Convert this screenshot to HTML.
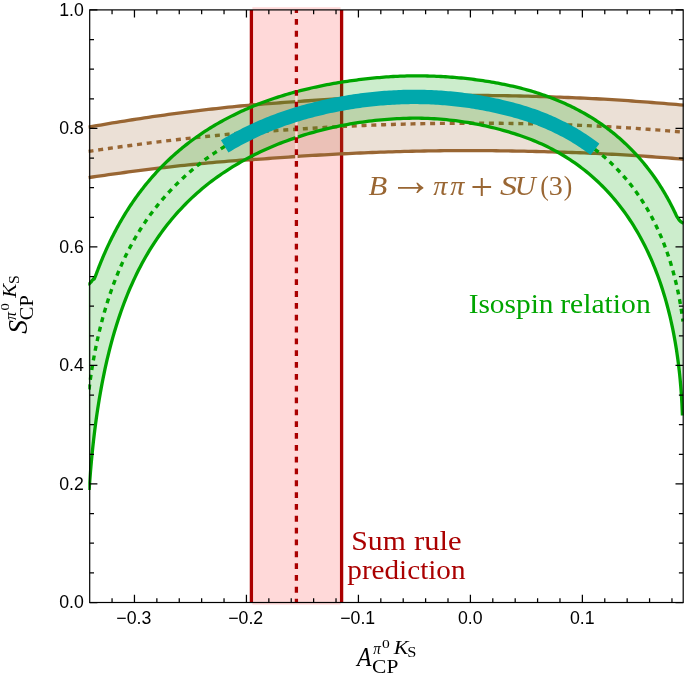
<!DOCTYPE html>
<html><head><meta charset="utf-8"><title>S_CP vs A_CP</title>
<style>
html,body{margin:0;padding:0;background:#fff;}
svg{display:block;}
.tk{font-family:"Liberation Sans",sans-serif;font-size:17.8px;fill:#000;}
</style></head><body>
<svg width="685" height="673" viewBox="0 0 685 673">
<rect width="685" height="673" fill="#fff"/>
<defs><clipPath id="cp"><rect x="88.3" y="9.9" width="595.4" height="592.6"/></clipPath><clipPath id="cl"><rect x="249" y="90" width="5.2" height="80"/></clipPath></defs>
<!-- sum rule band -->
<rect x="252.4" y="7.2" width="88.2" height="597.4" fill="#ff0000" fill-opacity="0.15"/>
<g clip-path="url(#cp)" fill="none" stroke-linejoin="round">
<path d="M341.6,9.9 V602.5" stroke="#aa0000" stroke-width="3.3"/>
<!-- SU(3) band -->
<path d="M88.50,127.12 L92.50,126.41 L96.49,125.70 L100.49,125.01 L104.49,124.32 L108.48,123.64 L112.48,122.97 L116.48,122.31 L120.47,121.65 L124.47,121.01 L128.47,120.37 L132.46,119.75 L136.46,119.13 L140.46,118.52 L144.45,117.92 L148.45,117.33 L152.45,116.74 L156.44,116.17 L160.44,115.60 L164.44,115.04 L168.43,114.49 L172.43,113.95 L176.43,113.42 L180.42,112.89 L184.42,112.37 L188.42,111.87 L192.41,111.37 L196.41,110.87 L200.41,110.39 L204.40,109.91 L208.40,109.45 L212.40,108.99 L216.39,108.54 L220.39,108.09 L224.39,107.66 L228.38,107.23 L232.38,106.81 L236.38,106.40 L240.37,106.00 L244.37,105.65 L248.37,105.30 L252.36,104.96 L256.36,104.62 L260.36,104.30 L264.35,103.97 L268.35,103.66 L272.35,103.35 L276.34,103.04 L280.34,102.74 L284.34,102.44 L288.33,102.15 L292.33,101.86 L296.33,101.57 L300.32,101.29 L304.32,101.01 L308.32,100.73 L312.31,100.46 L316.31,100.20 L320.31,99.95 L324.30,99.70 L328.30,99.46 L332.30,99.22 L336.29,98.99 L340.29,98.77 L344.29,98.55 L348.28,98.35 L352.28,98.14 L356.28,97.95 L360.27,97.76 L364.27,97.58 L368.27,97.41 L372.26,97.24 L376.26,97.08 L380.26,96.93 L384.25,96.79 L388.25,96.65 L392.24,96.52 L396.24,96.40 L400.24,96.29 L404.23,96.18 L408.23,96.08 L412.23,95.99 L416.22,95.91 L420.22,95.83 L424.22,95.76 L428.21,95.69 L432.21,95.63 L436.21,95.58 L440.20,95.53 L444.20,95.50 L448.20,95.46 L452.19,95.44 L456.19,95.42 L460.19,95.41 L464.18,95.40 L468.18,95.40 L472.18,95.41 L476.17,95.42 L480.17,95.44 L484.17,95.47 L488.16,95.50 L492.16,95.54 L496.16,95.59 L500.15,95.64 L504.15,95.70 L508.15,95.76 L512.14,95.83 L516.14,95.91 L520.14,96.00 L524.13,96.09 L528.13,96.18 L532.13,96.28 L536.12,96.39 L540.12,96.51 L544.12,96.63 L548.11,96.76 L552.11,96.89 L556.11,97.03 L560.10,97.17 L564.10,97.33 L568.10,97.48 L572.09,97.65 L576.09,97.82 L580.09,97.99 L584.08,98.17 L588.08,98.36 L592.08,98.56 L596.07,98.77 L600.07,98.98 L604.07,99.21 L608.06,99.44 L612.06,99.68 L616.06,99.93 L620.05,100.18 L624.05,100.45 L628.05,100.72 L632.04,101.00 L636.04,101.28 L640.04,101.58 L644.03,101.87 L648.03,102.18 L652.03,102.49 L656.02,102.81 L660.02,103.13 L664.02,103.46 L668.01,103.80 L672.01,104.14 L676.01,104.48 L680.00,104.83 L684.00,105.19 L684.00,159.25 L680.00,158.91 L676.01,158.59 L672.01,158.26 L668.01,157.95 L664.02,157.64 L660.02,157.34 L656.02,157.05 L652.03,156.76 L648.03,156.48 L644.03,156.20 L640.04,155.93 L636.04,155.67 L632.04,155.42 L628.05,155.17 L624.05,154.93 L620.05,154.69 L616.06,154.46 L612.06,154.24 L608.06,154.03 L604.07,153.82 L600.07,153.61 L596.07,153.42 L592.08,153.24 L588.08,153.07 L584.08,152.91 L580.09,152.76 L576.09,152.62 L572.09,152.49 L568.10,152.37 L564.10,152.25 L560.10,152.13 L556.11,152.02 L552.11,151.91 L548.11,151.80 L544.12,151.70 L540.12,151.59 L536.12,151.48 L532.13,151.39 L528.13,151.29 L524.13,151.20 L520.14,151.12 L516.14,151.05 L512.14,150.98 L508.15,150.91 L504.15,150.85 L500.15,150.80 L496.16,150.75 L492.16,150.71 L488.16,150.68 L484.17,150.65 L480.17,150.63 L476.17,150.61 L472.18,150.60 L468.18,150.60 L464.18,150.60 L460.19,150.61 L456.19,150.63 L452.19,150.65 L448.20,150.68 L444.20,150.72 L440.20,150.76 L436.21,150.81 L432.21,150.87 L428.21,150.93 L424.22,151.00 L420.22,151.08 L416.22,151.16 L412.23,151.26 L408.23,151.35 L404.23,151.46 L400.24,151.57 L396.24,151.69 L392.24,151.81 L388.25,151.94 L384.25,152.08 L380.26,152.22 L376.26,152.36 L372.26,152.52 L368.27,152.68 L364.27,152.84 L360.27,153.01 L356.28,153.19 L352.28,153.37 L348.28,153.55 L344.29,153.74 L340.29,153.94 L336.29,154.14 L332.30,154.34 L328.30,154.56 L324.30,154.78 L320.31,155.00 L316.31,155.23 L312.31,155.47 L308.32,155.72 L304.32,155.97 L300.32,156.22 L296.33,156.49 L292.33,156.76 L288.33,157.03 L284.34,157.32 L280.34,157.60 L276.34,157.90 L272.35,158.20 L268.35,158.51 L264.35,158.82 L260.36,159.08 L256.36,159.32 L252.36,159.53 L248.37,159.74 L244.37,159.98 L240.37,160.24 L236.38,160.55 L232.38,160.86 L228.38,161.18 L224.39,161.52 L220.39,161.86 L216.39,162.21 L212.40,162.58 L208.40,162.94 L204.40,163.32 L200.41,163.71 L196.41,164.10 L192.41,164.50 L188.42,164.90 L184.42,165.31 L180.42,165.73 L176.43,166.16 L172.43,166.60 L168.43,167.04 L164.44,167.49 L160.44,167.95 L156.44,168.41 L152.45,168.89 L148.45,169.37 L144.45,169.88 L140.46,170.39 L136.46,170.90 L132.46,171.43 L128.47,171.96 L124.47,172.49 L120.47,173.03 L116.48,173.58 L112.48,174.13 L108.48,174.70 L104.49,175.26 L100.49,175.84 L96.49,176.42 L92.50,177.00 L88.50,177.60 Z" fill="#996633" fill-opacity="0.2"/>
<path d="M88.50,127.12 L92.50,126.41 L96.49,125.70 L100.49,125.01 L104.49,124.32 L108.48,123.64 L112.48,122.97 L116.48,122.31 L120.47,121.65 L124.47,121.01 L128.47,120.37 L132.46,119.75 L136.46,119.13 L140.46,118.52 L144.45,117.92 L148.45,117.33 L152.45,116.74 L156.44,116.17 L160.44,115.60 L164.44,115.04 L168.43,114.49 L172.43,113.95 L176.43,113.42 L180.42,112.89 L184.42,112.37 L188.42,111.87 L192.41,111.37 L196.41,110.87 L200.41,110.39 L204.40,109.91 L208.40,109.45 L212.40,108.99 L216.39,108.54 L220.39,108.09 L224.39,107.66 L228.38,107.23 L232.38,106.81 L236.38,106.40 L240.37,106.00 L244.37,105.65 L248.37,105.30 L252.36,104.96 L256.36,104.62 L260.36,104.30 L264.35,103.97 L268.35,103.66 L272.35,103.35 L276.34,103.04 L280.34,102.74 L284.34,102.44 L288.33,102.15 L292.33,101.86 L296.33,101.57 L300.32,101.29 L304.32,101.01 L308.32,100.73 L312.31,100.46 L316.31,100.20 L320.31,99.95 L324.30,99.70 L328.30,99.46 L332.30,99.22 L336.29,98.99 L340.29,98.77 L344.29,98.55 L348.28,98.35 L352.28,98.14 L356.28,97.95 L360.27,97.76 L364.27,97.58 L368.27,97.41 L372.26,97.24 L376.26,97.08 L380.26,96.93 L384.25,96.79 L388.25,96.65 L392.24,96.52 L396.24,96.40 L400.24,96.29 L404.23,96.18 L408.23,96.08 L412.23,95.99 L416.22,95.91 L420.22,95.83 L424.22,95.76 L428.21,95.69 L432.21,95.63 L436.21,95.58 L440.20,95.53 L444.20,95.50 L448.20,95.46 L452.19,95.44 L456.19,95.42 L460.19,95.41 L464.18,95.40 L468.18,95.40 L472.18,95.41 L476.17,95.42 L480.17,95.44 L484.17,95.47 L488.16,95.50 L492.16,95.54 L496.16,95.59 L500.15,95.64 L504.15,95.70 L508.15,95.76 L512.14,95.83 L516.14,95.91 L520.14,96.00 L524.13,96.09 L528.13,96.18 L532.13,96.28 L536.12,96.39 L540.12,96.51 L544.12,96.63 L548.11,96.76 L552.11,96.89 L556.11,97.03 L560.10,97.17 L564.10,97.33 L568.10,97.48 L572.09,97.65 L576.09,97.82 L580.09,97.99 L584.08,98.17 L588.08,98.36 L592.08,98.56 L596.07,98.77 L600.07,98.98 L604.07,99.21 L608.06,99.44 L612.06,99.68 L616.06,99.93 L620.05,100.18 L624.05,100.45 L628.05,100.72 L632.04,101.00 L636.04,101.28 L640.04,101.58 L644.03,101.87 L648.03,102.18 L652.03,102.49 L656.02,102.81 L660.02,103.13 L664.02,103.46 L668.01,103.80 L672.01,104.14 L676.01,104.48 L680.00,104.83 L684.00,105.19" stroke="#996633" stroke-width="3.3"/>
<path d="M88.50,177.60 L92.50,177.00 L96.49,176.42 L100.49,175.84 L104.49,175.26 L108.48,174.70 L112.48,174.13 L116.48,173.58 L120.47,173.03 L124.47,172.49 L128.47,171.96 L132.46,171.43 L136.46,170.90 L140.46,170.39 L144.45,169.88 L148.45,169.37 L152.45,168.89 L156.44,168.41 L160.44,167.95 L164.44,167.49 L168.43,167.04 L172.43,166.60 L176.43,166.16 L180.42,165.73 L184.42,165.31 L188.42,164.90 L192.41,164.50 L196.41,164.10 L200.41,163.71 L204.40,163.32 L208.40,162.94 L212.40,162.58 L216.39,162.21 L220.39,161.86 L224.39,161.52 L228.38,161.18 L232.38,160.86 L236.38,160.55 L240.37,160.24 L244.37,159.98 L248.37,159.74 L252.36,159.53 L256.36,159.32 L260.36,159.08 L264.35,158.82 L268.35,158.51 L272.35,158.20 L276.34,157.90 L280.34,157.60 L284.34,157.32 L288.33,157.03 L292.33,156.76 L296.33,156.49 L300.32,156.22 L304.32,155.97 L308.32,155.72 L312.31,155.47 L316.31,155.23 L320.31,155.00 L324.30,154.78 L328.30,154.56 L332.30,154.34 L336.29,154.14 L340.29,153.94 L344.29,153.74 L348.28,153.55 L352.28,153.37 L356.28,153.19 L360.27,153.01 L364.27,152.84 L368.27,152.68 L372.26,152.52 L376.26,152.36 L380.26,152.22 L384.25,152.08 L388.25,151.94 L392.24,151.81 L396.24,151.69 L400.24,151.57 L404.23,151.46 L408.23,151.35 L412.23,151.26 L416.22,151.16 L420.22,151.08 L424.22,151.00 L428.21,150.93 L432.21,150.87 L436.21,150.81 L440.20,150.76 L444.20,150.72 L448.20,150.68 L452.19,150.65 L456.19,150.63 L460.19,150.61 L464.18,150.60 L468.18,150.60 L472.18,150.60 L476.17,150.61 L480.17,150.63 L484.17,150.65 L488.16,150.68 L492.16,150.71 L496.16,150.75 L500.15,150.80 L504.15,150.85 L508.15,150.91 L512.14,150.98 L516.14,151.05 L520.14,151.12 L524.13,151.20 L528.13,151.29 L532.13,151.39 L536.12,151.48 L540.12,151.59 L544.12,151.70 L548.11,151.80 L552.11,151.91 L556.11,152.02 L560.10,152.13 L564.10,152.25 L568.10,152.37 L572.09,152.49 L576.09,152.62 L580.09,152.76 L584.08,152.91 L588.08,153.07 L592.08,153.24 L596.07,153.42 L600.07,153.61 L604.07,153.82 L608.06,154.03 L612.06,154.24 L616.06,154.46 L620.05,154.69 L624.05,154.93 L628.05,155.17 L632.04,155.42 L636.04,155.67 L640.04,155.93 L644.03,156.20 L648.03,156.48 L652.03,156.76 L656.02,157.05 L660.02,157.34 L664.02,157.64 L668.01,157.95 L672.01,158.26 L676.01,158.59 L680.00,158.91 L684.00,159.25" stroke="#996633" stroke-width="3.3"/>
<path d="M88.50,151.43 L92.50,150.82 L96.49,150.23 L100.49,149.64 L104.49,149.06 L108.48,148.48 L112.48,147.91 L116.48,147.35 L120.47,146.80 L124.47,146.25 L128.47,145.70 L132.46,145.17 L136.46,144.64 L140.46,144.12 L144.45,143.60 L148.45,143.09 L152.45,142.59 L156.44,142.09 L160.44,141.60 L164.44,141.12 L168.43,140.65 L172.43,140.18 L176.43,139.71 L180.42,139.26 L184.42,138.81 L188.42,138.36 L192.41,137.93 L196.41,137.49 L200.41,137.07 L204.40,136.65 L208.40,136.24 L212.40,135.84 L216.39,135.44 L220.39,135.05 L224.39,134.66 L228.38,134.28 L232.38,133.91 L236.38,133.55 L240.37,133.19 L244.37,132.88 L248.37,132.57 L252.36,132.27 L256.36,131.97 L260.36,131.68 L264.35,131.39 L268.35,131.11 L272.35,130.83 L276.34,130.56 L280.34,130.29 L284.34,130.02 L288.33,129.75 L292.33,129.49 L296.33,129.22 L300.32,128.96 L304.32,128.70 L308.32,128.45 L312.31,128.20 L316.31,127.96 L320.31,127.72 L324.30,127.49 L328.30,127.26 L332.30,127.04 L336.29,126.82 L340.29,126.61 L344.29,126.41 L348.28,126.21 L352.28,126.02 L356.28,125.83 L360.27,125.65 L364.27,125.47 L368.27,125.30 L372.26,125.14 L376.26,124.99 L380.26,124.84 L384.25,124.70 L388.25,124.56 L392.24,124.43 L396.24,124.31 L400.24,124.20 L404.23,124.09 L408.23,123.99 L412.23,123.89 L416.22,123.80 L420.22,123.72 L424.22,123.64 L428.21,123.57 L432.21,123.50 L436.21,123.44 L440.20,123.39 L444.20,123.34 L448.20,123.30 L452.19,123.26 L456.19,123.23 L460.19,123.21 L464.18,123.19 L468.18,123.18 L472.18,123.18 L476.17,123.18 L480.17,123.18 L484.17,123.20 L488.16,123.22 L492.16,123.24 L496.16,123.27 L500.15,123.31 L504.15,123.35 L508.15,123.40 L512.14,123.46 L516.14,123.52 L520.14,123.59 L524.13,123.66 L528.13,123.74 L532.13,123.83 L536.12,123.92 L540.12,124.02 L544.12,124.12 L548.11,124.23 L552.11,124.35 L556.11,124.47 L560.10,124.60 L564.10,124.74 L568.10,124.88 L572.09,125.02 L576.09,125.18 L580.09,125.33 L584.08,125.50 L588.08,125.67 L592.08,125.85 L596.07,126.04 L600.07,126.24 L604.07,126.45 L608.06,126.67 L612.06,126.89 L616.06,127.12 L620.05,127.37 L624.05,127.61 L628.05,127.87 L632.04,128.14 L636.04,128.41 L640.04,128.69 L644.03,128.97 L648.03,129.27 L652.03,129.57 L656.02,129.87 L660.02,130.18 L664.02,130.50 L668.01,130.83 L672.01,131.16 L676.01,131.49 L680.00,131.84 L684.00,132.18" stroke="#996633" stroke-width="3.4" stroke-dasharray="5 4.8"/>
<!-- isospin band -->
<path d="M87.90,284.70 L89.40,283.70 L90.90,282.20 L92.30,280.30 L93.60,278.68 L93.61,278.68 L93.64,278.68 L93.68,278.68 L93.74,278.68 L93.83,278.68 L93.93,279.00 L94.04,279.10 L94.18,278.95 L94.33,278.68 L94.50,278.33 L94.69,277.90 L94.90,277.40 L95.13,276.85 L95.37,276.23 L95.63,275.56 L95.91,274.83 L96.21,274.05 L96.52,273.23 L96.86,272.35 L97.21,271.43 L97.58,270.47 L97.96,269.47 L98.37,268.43 L98.79,267.34 L99.23,266.22 L99.69,265.07 L100.16,263.88 L100.66,262.66 L101.17,261.41 L101.69,260.12 L102.24,258.81 L102.80,257.47 L103.38,256.11 L103.98,254.72 L104.60,253.30 L105.23,251.87 L105.88,250.41 L106.55,248.93 L107.24,247.43 L107.94,245.92 L108.66,244.39 L109.39,242.84 L110.15,241.27 L110.92,239.69 L111.71,238.10 L112.51,236.50 L113.33,234.88 L114.17,233.25 L115.03,231.62 L115.90,229.97 L116.79,228.32 L117.69,226.66 L118.62,224.99 L119.55,223.32 L120.51,221.64 L121.48,219.96 L122.47,218.27 L123.47,216.58 L124.49,214.89 L125.53,213.20 L126.58,211.50 L127.65,209.81 L128.73,208.12 L129.83,206.42 L130.95,204.74 L132.08,203.07 L133.23,201.39 L134.39,199.72 L135.57,198.05 L136.77,196.39 L137.98,194.73 L139.20,193.08 L140.44,191.43 L141.70,189.79 L142.97,188.15 L144.25,186.53 L145.55,184.90 L146.87,183.29 L148.20,181.68 L149.54,180.09 L150.90,178.50 L152.27,176.91 L153.66,175.34 L155.07,173.78 L156.48,172.23 L157.91,170.69 L159.36,169.15 L160.82,167.63 L162.29,166.12 L163.78,164.62 L165.28,163.13 L166.79,161.66 L168.32,160.19 L169.86,158.74 L171.42,157.30 L172.98,155.87 L174.56,154.45 L176.16,153.05 L177.76,151.66 L179.38,150.29 L181.02,148.92 L182.66,147.57 L184.32,146.24 L185.99,144.91 L187.67,143.60 L189.37,142.30 L191.07,141.02 L192.79,139.75 L194.52,138.49 L196.27,137.24 L198.02,136.01 L199.79,134.78 L201.56,133.58 L203.35,132.38 L205.15,131.20 L206.96,130.04 L208.79,128.89 L210.62,127.75 L212.46,126.63 L214.32,125.52 L216.18,124.42 L218.06,123.34 L219.95,122.27 L221.84,121.21 L223.75,120.17 L225.66,119.14 L227.59,118.13 L229.53,117.12 L231.47,116.13 L233.43,115.15 L235.39,114.18 L237.37,113.23 L239.35,112.29 L241.34,111.35 L243.34,110.44 L245.35,109.53 L247.37,108.64 L249.40,107.76 L251.43,106.90 L253.48,106.05 L255.53,105.21 L257.59,104.39 L259.66,103.58 L261.73,102.79 L263.82,102.00 L265.91,101.23 L268.01,100.48 L270.11,99.74 L272.22,99.01 L274.34,98.29 L276.47,97.59 L278.60,96.89 L280.74,96.22 L282.89,95.55 L285.04,94.90 L287.20,94.26 L289.37,93.63 L291.54,93.01 L293.71,92.41 L295.90,91.82 L298.08,91.24 L300.28,90.68 L302.47,90.12 L304.68,89.58 L306.89,89.04 L309.10,88.52 L311.32,88.01 L313.54,87.51 L315.77,87.02 L318.00,86.54 L320.24,86.07 L322.47,85.61 L324.72,85.16 L326.97,84.73 L329.22,84.30 L331.47,83.89 L333.73,83.48 L335.99,83.09 L338.25,82.71 L340.52,82.34 L342.79,81.98 L345.06,81.63 L347.34,81.29 L349.61,80.96 L351.89,80.64 L354.17,80.33 L356.46,80.02 L358.74,79.73 L361.03,79.44 L363.32,79.17 L365.61,78.90 L367.90,78.65 L370.19,78.40 L372.48,78.16 L374.77,77.94 L377.07,77.72 L379.36,77.52 L381.66,77.32 L383.95,77.14 L386.25,76.97 L388.54,76.81 L390.84,76.66 L393.13,76.52 L395.43,76.40 L397.72,76.29 L400.01,76.19 L402.30,76.10 L404.59,76.03 L406.88,75.97 L409.17,75.92 L411.46,75.88 L413.74,75.86 L416.03,75.86 L418.31,75.86 L420.59,75.88 L422.86,75.90 L425.14,75.94 L427.41,75.99 L429.68,76.05 L431.95,76.12 L434.21,76.20 L436.47,76.29 L438.73,76.39 L440.98,76.50 L443.23,76.63 L445.48,76.76 L447.73,76.91 L449.96,77.06 L452.20,77.23 L454.43,77.41 L456.66,77.59 L458.88,77.79 L461.10,78.00 L463.31,78.22 L465.52,78.46 L467.73,78.70 L469.92,78.95 L472.12,79.22 L474.30,79.49 L476.49,79.78 L478.66,80.07 L480.83,80.38 L483.00,80.70 L485.16,81.03 L487.31,81.37 L489.46,81.72 L491.60,82.08 L493.73,82.45 L495.86,82.83 L497.98,83.22 L500.09,83.62 L502.19,84.03 L504.29,84.45 L506.38,84.88 L508.47,85.32 L510.54,85.77 L512.61,86.23 L514.67,86.71 L516.72,87.20 L518.77,87.70 L520.80,88.21 L522.83,88.73 L524.85,89.27 L526.86,89.82 L528.86,90.38 L530.85,90.95 L532.83,91.54 L534.81,92.15 L536.77,92.76 L538.73,93.40 L540.67,94.04 L542.61,94.70 L544.54,95.37 L546.45,96.05 L548.36,96.75 L550.25,97.46 L552.14,98.18 L554.02,98.91 L555.88,99.66 L557.74,100.42 L559.58,101.19 L561.41,101.97 L563.24,102.77 L565.05,103.58 L566.85,104.40 L568.64,105.24 L570.41,106.08 L572.18,106.94 L573.93,107.81 L575.68,108.70 L577.41,109.60 L579.13,110.50 L580.83,111.43 L582.53,112.36 L584.21,113.30 L585.88,114.26 L587.54,115.23 L589.18,116.21 L590.82,117.20 L592.44,118.21 L594.04,119.23 L595.64,120.25 L597.22,121.29 L598.78,122.34 L600.34,123.40 L601.88,124.47 L603.41,125.56 L604.92,126.65 L606.42,127.75 L607.91,128.86 L609.38,129.99 L610.84,131.12 L612.29,132.26 L613.72,133.41 L615.13,134.57 L616.54,135.74 L617.93,136.92 L619.30,138.10 L620.66,139.30 L622.00,140.50 L623.33,141.70 L624.65,142.92 L625.95,144.14 L627.23,145.37 L628.50,146.61 L629.76,147.85 L631.00,149.09 L632.22,150.35 L633.43,151.60 L634.63,152.86 L635.81,154.13 L636.97,155.40 L638.12,156.67 L639.25,157.94 L640.37,159.22 L641.47,160.50 L642.55,161.78 L643.62,163.06 L644.67,164.34 L645.71,165.62 L646.73,166.90 L647.73,168.18 L648.72,169.46 L649.69,170.73 L650.65,172.00 L651.58,173.27 L652.51,174.53 L653.41,175.79 L654.30,177.05 L655.17,178.30 L656.03,179.54 L656.87,180.77 L657.69,182.00 L658.49,183.22 L659.28,184.43 L660.05,185.62 L660.81,186.81 L661.54,187.99 L662.26,189.15 L662.96,190.30 L663.65,191.44 L664.32,192.56 L664.97,193.66 L665.60,194.75 L666.22,195.82 L666.82,196.88 L667.40,197.91 L667.96,198.93 L668.51,199.92 L669.03,200.89 L669.54,201.84 L670.04,202.77 L670.51,203.67 L670.97,204.55 L671.41,205.40 L671.83,206.23 L672.24,207.03 L672.62,207.80 L672.99,208.54 L673.34,209.25 L673.68,209.93 L673.99,210.58 L674.29,211.19 L674.57,211.77 L674.83,212.32 L675.07,212.84 L675.30,213.31 L675.51,213.76 L675.70,214.16 L675.87,214.53 L676.02,214.86 L676.16,215.16 L676.27,215.41 L676.37,215.63 L676.46,215.81 L676.52,215.95 L676.56,216.05 L676.59,216.11 L676.60,216.13 L677.70,217.70 L679.20,220.00 L681.00,221.90 L683.50,223.30 L682.41,415.50 L682.23,410.72 L681.88,403.10 L681.49,396.47 L681.07,390.43 L680.61,384.76 L680.13,379.37 L679.61,374.19 L679.06,369.18 L678.48,364.31 L677.86,359.56 L677.22,354.91 L676.54,350.36 L675.83,345.88 L675.09,341.49 L674.31,337.16 L673.51,332.91 L672.67,328.71 L671.80,324.57 L670.90,320.50 L669.97,316.47 L669.01,312.50 L668.01,308.58 L666.99,304.71 L665.93,300.90 L664.85,297.13 L663.73,293.40 L662.58,289.73 L661.41,286.10 L660.20,282.52 L658.96,278.98 L657.69,275.49 L656.39,272.04 L655.07,268.63 L653.71,265.27 L652.32,261.96 L650.91,258.68 L649.46,255.45 L647.99,252.26 L646.49,249.12 L644.96,246.02 L643.40,242.96 L641.81,239.94 L640.19,236.96 L638.55,234.02 L636.88,231.13 L635.18,228.28 L633.45,225.47 L631.70,222.70 L629.92,219.97 L628.11,217.28 L626.28,214.63 L624.42,212.02 L622.53,209.46 L620.62,206.93 L618.68,204.44 L616.72,201.99 L614.73,199.59 L612.71,197.22 L610.67,194.89 L608.61,192.61 L606.52,190.36 L604.41,188.16 L602.27,185.99 L600.11,183.86 L597.93,181.77 L595.72,179.72 L593.49,177.71 L591.24,175.74 L588.96,173.80 L586.67,171.90 L584.35,170.04 L582.01,168.22 L579.64,166.44 L577.26,164.69 L574.85,162.98 L572.43,161.31 L569.98,159.67 L567.51,158.07 L565.03,156.50 L562.52,154.97 L560.00,153.48 L557.45,152.02 L554.89,150.60 L552.31,149.23 L549.71,147.89 L547.09,146.59 L544.45,145.33 L541.80,144.10 L539.13,142.92 L536.44,141.76 L533.74,140.64 L531.02,139.56 L528.28,138.50 L525.53,137.48 L522.76,136.49 L519.98,135.53 L517.18,134.59 L514.37,133.68 L511.55,132.80 L508.71,131.94 L505.86,131.11 L502.99,130.30 L500.11,129.51 L497.22,128.74 L494.32,128.00 L491.40,127.28 L488.48,126.59 L485.54,125.93 L482.59,125.29 L479.63,124.68 L476.66,124.09 L473.68,123.53 L470.69,123.00 L467.69,122.49 L464.69,122.01 L461.67,121.56 L458.64,121.13 L455.61,120.73 L452.57,120.37 L449.52,120.02 L446.47,119.71 L443.41,119.43 L440.34,119.17 L437.27,118.94 L434.19,118.75 L431.11,118.58 L428.02,118.44 L424.92,118.34 L421.82,118.26 L418.72,118.21 L415.62,118.20 L412.51,118.22 L409.40,118.26 L406.28,118.33 L403.17,118.42 L400.05,118.54 L396.93,118.69 L393.81,118.86 L390.68,119.06 L387.56,119.29 L384.44,119.54 L381.32,119.82 L378.19,120.12 L375.07,120.45 L371.95,120.80 L368.83,121.18 L365.72,121.58 L362.60,122.01 L359.49,122.47 L356.38,122.94 L353.28,123.45 L350.18,123.98 L347.08,124.53 L343.98,125.11 L340.89,125.72 L337.81,126.35 L334.73,127.00 L331.66,127.68 L328.59,128.39 L325.53,129.12 L322.48,129.87 L319.43,130.65 L316.39,131.46 L313.36,132.29 L310.33,133.15 L307.31,134.03 L304.31,134.94 L301.31,135.88 L298.32,136.84 L295.34,137.82 L292.37,138.84 L289.41,139.88 L286.46,140.95 L283.52,142.04 L280.60,143.16 L277.68,144.31 L274.78,145.49 L271.89,146.70 L269.01,147.93 L266.14,149.20 L263.29,150.49 L260.45,151.81 L257.63,153.16 L254.82,154.54 L252.02,155.95 L249.24,157.40 L246.47,158.87 L243.72,160.37 L240.98,161.90 L238.26,163.47 L235.56,165.06 L232.87,166.69 L230.20,168.34 L227.55,170.03 L224.91,171.76 L222.29,173.51 L219.69,175.30 L217.11,177.13 L214.55,178.99 L212.00,180.88 L209.48,182.82 L206.97,184.78 L204.49,186.79 L202.02,188.84 L199.57,190.92 L197.15,193.04 L194.74,195.20 L192.36,197.40 L189.99,199.64 L187.65,201.92 L185.33,204.24 L183.04,206.61 L180.76,209.01 L178.51,211.45 L176.28,213.94 L174.07,216.47 L171.89,219.05 L169.73,221.67 L167.59,224.34 L165.48,227.05 L163.39,229.80 L161.33,232.60 L159.29,235.45 L157.27,238.35 L155.28,241.30 L153.32,244.29 L151.38,247.34 L149.47,250.43 L147.58,253.58 L145.72,256.78 L143.89,260.03 L142.08,263.34 L140.30,266.70 L138.55,270.11 L136.82,273.57 L135.12,277.09 L133.45,280.66 L131.81,284.29 L130.19,287.97 L128.60,291.71 L127.04,295.51 L125.51,299.36 L124.01,303.27 L122.54,307.24 L121.09,311.26 L119.68,315.35 L118.29,319.49 L116.93,323.70 L115.61,327.96 L114.31,332.28 L113.04,336.66 L111.80,341.10 L110.59,345.60 L109.42,350.15 L108.27,354.77 L107.15,359.44 L106.07,364.17 L105.01,368.95 L103.99,373.80 L102.99,378.69 L102.03,383.64 L101.10,388.63 L100.20,393.68 L99.33,398.77 L98.49,403.90 L97.69,409.07 L96.91,414.27 L96.17,419.50 L95.46,424.76 L94.78,430.03 L94.14,435.31 L93.52,440.59 L92.94,445.86 L92.39,451.10 L91.87,456.30 L91.39,461.44 L90.93,466.50 L90.51,471.46 L90.12,476.30 L89.77,480.97 L89.44,485.44 L89.15,489.68 L89.13,490.00 Z" fill="#00a500" fill-opacity="0.2"/>
<path d="M251.4,9.9 V602.5" stroke="#aa0000" stroke-width="3.3"/>
<g clip-path="url(#cl)"><path d="M88.50,127.12 L92.50,126.41 L96.49,125.70 L100.49,125.01 L104.49,124.32 L108.48,123.64 L112.48,122.97 L116.48,122.31 L120.47,121.65 L124.47,121.01 L128.47,120.37 L132.46,119.75 L136.46,119.13 L140.46,118.52 L144.45,117.92 L148.45,117.33 L152.45,116.74 L156.44,116.17 L160.44,115.60 L164.44,115.04 L168.43,114.49 L172.43,113.95 L176.43,113.42 L180.42,112.89 L184.42,112.37 L188.42,111.87 L192.41,111.37 L196.41,110.87 L200.41,110.39 L204.40,109.91 L208.40,109.45 L212.40,108.99 L216.39,108.54 L220.39,108.09 L224.39,107.66 L228.38,107.23 L232.38,106.81 L236.38,106.40 L240.37,106.00 L244.37,105.65 L248.37,105.30 L252.36,104.96 L256.36,104.62 L260.36,104.30 L264.35,103.97 L268.35,103.66 L272.35,103.35 L276.34,103.04 L280.34,102.74 L284.34,102.44 L288.33,102.15 L292.33,101.86 L296.33,101.57 L300.32,101.29 L304.32,101.01 L308.32,100.73 L312.31,100.46 L316.31,100.20 L320.31,99.95 L324.30,99.70 L328.30,99.46 L332.30,99.22 L336.29,98.99 L340.29,98.77 L344.29,98.55 L348.28,98.35 L352.28,98.14 L356.28,97.95 L360.27,97.76 L364.27,97.58 L368.27,97.41 L372.26,97.24 L376.26,97.08 L380.26,96.93 L384.25,96.79 L388.25,96.65 L392.24,96.52 L396.24,96.40 L400.24,96.29 L404.23,96.18 L408.23,96.08 L412.23,95.99 L416.22,95.91 L420.22,95.83 L424.22,95.76 L428.21,95.69 L432.21,95.63 L436.21,95.58 L440.20,95.53 L444.20,95.50 L448.20,95.46 L452.19,95.44 L456.19,95.42 L460.19,95.41 L464.18,95.40 L468.18,95.40 L472.18,95.41 L476.17,95.42 L480.17,95.44 L484.17,95.47 L488.16,95.50 L492.16,95.54 L496.16,95.59 L500.15,95.64 L504.15,95.70 L508.15,95.76 L512.14,95.83 L516.14,95.91 L520.14,96.00 L524.13,96.09 L528.13,96.18 L532.13,96.28 L536.12,96.39 L540.12,96.51 L544.12,96.63 L548.11,96.76 L552.11,96.89 L556.11,97.03 L560.10,97.17 L564.10,97.33 L568.10,97.48 L572.09,97.65 L576.09,97.82 L580.09,97.99 L584.08,98.17 L588.08,98.36 L592.08,98.56 L596.07,98.77 L600.07,98.98 L604.07,99.21 L608.06,99.44 L612.06,99.68 L616.06,99.93 L620.05,100.18 L624.05,100.45 L628.05,100.72 L632.04,101.00 L636.04,101.28 L640.04,101.58 L644.03,101.87 L648.03,102.18 L652.03,102.49 L656.02,102.81 L660.02,103.13 L664.02,103.46 L668.01,103.80 L672.01,104.14 L676.01,104.48 L680.00,104.83 L684.00,105.19" stroke="#996633" stroke-width="3.3"/><path d="M88.50,177.60 L92.50,177.00 L96.49,176.42 L100.49,175.84 L104.49,175.26 L108.48,174.70 L112.48,174.13 L116.48,173.58 L120.47,173.03 L124.47,172.49 L128.47,171.96 L132.46,171.43 L136.46,170.90 L140.46,170.39 L144.45,169.88 L148.45,169.37 L152.45,168.89 L156.44,168.41 L160.44,167.95 L164.44,167.49 L168.43,167.04 L172.43,166.60 L176.43,166.16 L180.42,165.73 L184.42,165.31 L188.42,164.90 L192.41,164.50 L196.41,164.10 L200.41,163.71 L204.40,163.32 L208.40,162.94 L212.40,162.58 L216.39,162.21 L220.39,161.86 L224.39,161.52 L228.38,161.18 L232.38,160.86 L236.38,160.55 L240.37,160.24 L244.37,159.98 L248.37,159.74 L252.36,159.53 L256.36,159.32 L260.36,159.08 L264.35,158.82 L268.35,158.51 L272.35,158.20 L276.34,157.90 L280.34,157.60 L284.34,157.32 L288.33,157.03 L292.33,156.76 L296.33,156.49 L300.32,156.22 L304.32,155.97 L308.32,155.72 L312.31,155.47 L316.31,155.23 L320.31,155.00 L324.30,154.78 L328.30,154.56 L332.30,154.34 L336.29,154.14 L340.29,153.94 L344.29,153.74 L348.28,153.55 L352.28,153.37 L356.28,153.19 L360.27,153.01 L364.27,152.84 L368.27,152.68 L372.26,152.52 L376.26,152.36 L380.26,152.22 L384.25,152.08 L388.25,151.94 L392.24,151.81 L396.24,151.69 L400.24,151.57 L404.23,151.46 L408.23,151.35 L412.23,151.26 L416.22,151.16 L420.22,151.08 L424.22,151.00 L428.21,150.93 L432.21,150.87 L436.21,150.81 L440.20,150.76 L444.20,150.72 L448.20,150.68 L452.19,150.65 L456.19,150.63 L460.19,150.61 L464.18,150.60 L468.18,150.60 L472.18,150.60 L476.17,150.61 L480.17,150.63 L484.17,150.65 L488.16,150.68 L492.16,150.71 L496.16,150.75 L500.15,150.80 L504.15,150.85 L508.15,150.91 L512.14,150.98 L516.14,151.05 L520.14,151.12 L524.13,151.20 L528.13,151.29 L532.13,151.39 L536.12,151.48 L540.12,151.59 L544.12,151.70 L548.11,151.80 L552.11,151.91 L556.11,152.02 L560.10,152.13 L564.10,152.25 L568.10,152.37 L572.09,152.49 L576.09,152.62 L580.09,152.76 L584.08,152.91 L588.08,153.07 L592.08,153.24 L596.07,153.42 L600.07,153.61 L604.07,153.82 L608.06,154.03 L612.06,154.24 L616.06,154.46 L620.05,154.69 L624.05,154.93 L628.05,155.17 L632.04,155.42 L636.04,155.67 L640.04,155.93 L644.03,156.20 L648.03,156.48 L652.03,156.76 L656.02,157.05 L660.02,157.34 L664.02,157.64 L668.01,157.95 L672.01,158.26 L676.01,158.59 L680.00,158.91 L684.00,159.25" stroke="#996633" stroke-width="3.3"/></g>
<path d="M87.90,284.70 L89.40,283.70 L90.90,282.20 L92.30,280.30 L93.60,278.68 L93.61,278.68 L93.64,278.68 L93.68,278.68 L93.74,278.68 L93.83,278.68 L93.93,279.00 L94.04,279.10 L94.18,278.95 L94.33,278.68 L94.50,278.33 L94.69,277.90 L94.90,277.40 L95.13,276.85 L95.37,276.23 L95.63,275.56 L95.91,274.83 L96.21,274.05 L96.52,273.23 L96.86,272.35 L97.21,271.43 L97.58,270.47 L97.96,269.47 L98.37,268.43 L98.79,267.34 L99.23,266.22 L99.69,265.07 L100.16,263.88 L100.66,262.66 L101.17,261.41 L101.69,260.12 L102.24,258.81 L102.80,257.47 L103.38,256.11 L103.98,254.72 L104.60,253.30 L105.23,251.87 L105.88,250.41 L106.55,248.93 L107.24,247.43 L107.94,245.92 L108.66,244.39 L109.39,242.84 L110.15,241.27 L110.92,239.69 L111.71,238.10 L112.51,236.50 L113.33,234.88 L114.17,233.25 L115.03,231.62 L115.90,229.97 L116.79,228.32 L117.69,226.66 L118.62,224.99 L119.55,223.32 L120.51,221.64 L121.48,219.96 L122.47,218.27 L123.47,216.58 L124.49,214.89 L125.53,213.20 L126.58,211.50 L127.65,209.81 L128.73,208.12 L129.83,206.42 L130.95,204.74 L132.08,203.07 L133.23,201.39 L134.39,199.72 L135.57,198.05 L136.77,196.39 L137.98,194.73 L139.20,193.08 L140.44,191.43 L141.70,189.79 L142.97,188.15 L144.25,186.53 L145.55,184.90 L146.87,183.29 L148.20,181.68 L149.54,180.09 L150.90,178.50 L152.27,176.91 L153.66,175.34 L155.07,173.78 L156.48,172.23 L157.91,170.69 L159.36,169.15 L160.82,167.63 L162.29,166.12 L163.78,164.62 L165.28,163.13 L166.79,161.66 L168.32,160.19 L169.86,158.74 L171.42,157.30 L172.98,155.87 L174.56,154.45 L176.16,153.05 L177.76,151.66 L179.38,150.29 L181.02,148.92 L182.66,147.57 L184.32,146.24 L185.99,144.91 L187.67,143.60 L189.37,142.30 L191.07,141.02 L192.79,139.75 L194.52,138.49 L196.27,137.24 L198.02,136.01 L199.79,134.78 L201.56,133.58 L203.35,132.38 L205.15,131.20 L206.96,130.04 L208.79,128.89 L210.62,127.75 L212.46,126.63 L214.32,125.52 L216.18,124.42 L218.06,123.34 L219.95,122.27 L221.84,121.21 L223.75,120.17 L225.66,119.14 L227.59,118.13 L229.53,117.12 L231.47,116.13 L233.43,115.15 L235.39,114.18 L237.37,113.23 L239.35,112.29 L241.34,111.35 L243.34,110.44 L245.35,109.53 L247.37,108.64 L249.40,107.76 L251.43,106.90 L253.48,106.05 L255.53,105.21 L257.59,104.39 L259.66,103.58 L261.73,102.79 L263.82,102.00 L265.91,101.23 L268.01,100.48 L270.11,99.74 L272.22,99.01 L274.34,98.29 L276.47,97.59 L278.60,96.89 L280.74,96.22 L282.89,95.55 L285.04,94.90 L287.20,94.26 L289.37,93.63 L291.54,93.01 L293.71,92.41 L295.90,91.82 L298.08,91.24 L300.28,90.68 L302.47,90.12 L304.68,89.58 L306.89,89.04 L309.10,88.52 L311.32,88.01 L313.54,87.51 L315.77,87.02 L318.00,86.54 L320.24,86.07 L322.47,85.61 L324.72,85.16 L326.97,84.73 L329.22,84.30 L331.47,83.89 L333.73,83.48 L335.99,83.09 L338.25,82.71 L340.52,82.34 L342.79,81.98 L345.06,81.63 L347.34,81.29 L349.61,80.96 L351.89,80.64 L354.17,80.33 L356.46,80.02 L358.74,79.73 L361.03,79.44 L363.32,79.17 L365.61,78.90 L367.90,78.65 L370.19,78.40 L372.48,78.16 L374.77,77.94 L377.07,77.72 L379.36,77.52 L381.66,77.32 L383.95,77.14 L386.25,76.97 L388.54,76.81 L390.84,76.66 L393.13,76.52 L395.43,76.40 L397.72,76.29 L400.01,76.19 L402.30,76.10 L404.59,76.03 L406.88,75.97 L409.17,75.92 L411.46,75.88 L413.74,75.86 L416.03,75.86 L418.31,75.86 L420.59,75.88 L422.86,75.90 L425.14,75.94 L427.41,75.99 L429.68,76.05 L431.95,76.12 L434.21,76.20 L436.47,76.29 L438.73,76.39 L440.98,76.50 L443.23,76.63 L445.48,76.76 L447.73,76.91 L449.96,77.06 L452.20,77.23 L454.43,77.41 L456.66,77.59 L458.88,77.79 L461.10,78.00 L463.31,78.22 L465.52,78.46 L467.73,78.70 L469.92,78.95 L472.12,79.22 L474.30,79.49 L476.49,79.78 L478.66,80.07 L480.83,80.38 L483.00,80.70 L485.16,81.03 L487.31,81.37 L489.46,81.72 L491.60,82.08 L493.73,82.45 L495.86,82.83 L497.98,83.22 L500.09,83.62 L502.19,84.03 L504.29,84.45 L506.38,84.88 L508.47,85.32 L510.54,85.77 L512.61,86.23 L514.67,86.71 L516.72,87.20 L518.77,87.70 L520.80,88.21 L522.83,88.73 L524.85,89.27 L526.86,89.82 L528.86,90.38 L530.85,90.95 L532.83,91.54 L534.81,92.15 L536.77,92.76 L538.73,93.40 L540.67,94.04 L542.61,94.70 L544.54,95.37 L546.45,96.05 L548.36,96.75 L550.25,97.46 L552.14,98.18 L554.02,98.91 L555.88,99.66 L557.74,100.42 L559.58,101.19 L561.41,101.97 L563.24,102.77 L565.05,103.58 L566.85,104.40 L568.64,105.24 L570.41,106.08 L572.18,106.94 L573.93,107.81 L575.68,108.70 L577.41,109.60 L579.13,110.50 L580.83,111.43 L582.53,112.36 L584.21,113.30 L585.88,114.26 L587.54,115.23 L589.18,116.21 L590.82,117.20 L592.44,118.21 L594.04,119.23 L595.64,120.25 L597.22,121.29 L598.78,122.34 L600.34,123.40 L601.88,124.47 L603.41,125.56 L604.92,126.65 L606.42,127.75 L607.91,128.86 L609.38,129.99 L610.84,131.12 L612.29,132.26 L613.72,133.41 L615.13,134.57 L616.54,135.74 L617.93,136.92 L619.30,138.10 L620.66,139.30 L622.00,140.50 L623.33,141.70 L624.65,142.92 L625.95,144.14 L627.23,145.37 L628.50,146.61 L629.76,147.85 L631.00,149.09 L632.22,150.35 L633.43,151.60 L634.63,152.86 L635.81,154.13 L636.97,155.40 L638.12,156.67 L639.25,157.94 L640.37,159.22 L641.47,160.50 L642.55,161.78 L643.62,163.06 L644.67,164.34 L645.71,165.62 L646.73,166.90 L647.73,168.18 L648.72,169.46 L649.69,170.73 L650.65,172.00 L651.58,173.27 L652.51,174.53 L653.41,175.79 L654.30,177.05 L655.17,178.30 L656.03,179.54 L656.87,180.77 L657.69,182.00 L658.49,183.22 L659.28,184.43 L660.05,185.62 L660.81,186.81 L661.54,187.99 L662.26,189.15 L662.96,190.30 L663.65,191.44 L664.32,192.56 L664.97,193.66 L665.60,194.75 L666.22,195.82 L666.82,196.88 L667.40,197.91 L667.96,198.93 L668.51,199.92 L669.03,200.89 L669.54,201.84 L670.04,202.77 L670.51,203.67 L670.97,204.55 L671.41,205.40 L671.83,206.23 L672.24,207.03 L672.62,207.80 L672.99,208.54 L673.34,209.25 L673.68,209.93 L673.99,210.58 L674.29,211.19 L674.57,211.77 L674.83,212.32 L675.07,212.84 L675.30,213.31 L675.51,213.76 L675.70,214.16 L675.87,214.53 L676.02,214.86 L676.16,215.16 L676.27,215.41 L676.37,215.63 L676.46,215.81 L676.52,215.95 L676.56,216.05 L676.59,216.11 L676.60,216.13 L677.70,217.70 L679.20,220.00 L681.00,221.90 L683.50,223.30" stroke="#00a500" stroke-width="3.3"/>
<path d="M89.13,490.00 L89.15,489.68 L89.44,485.44 L89.77,480.97 L90.12,476.30 L90.51,471.46 L90.93,466.50 L91.39,461.44 L91.87,456.30 L92.39,451.10 L92.94,445.86 L93.52,440.59 L94.14,435.31 L94.78,430.03 L95.46,424.76 L96.17,419.50 L96.91,414.27 L97.69,409.07 L98.49,403.90 L99.33,398.77 L100.20,393.68 L101.10,388.63 L102.03,383.64 L102.99,378.69 L103.99,373.80 L105.01,368.95 L106.07,364.17 L107.15,359.44 L108.27,354.77 L109.42,350.15 L110.59,345.60 L111.80,341.10 L113.04,336.66 L114.31,332.28 L115.61,327.96 L116.93,323.70 L118.29,319.49 L119.68,315.35 L121.09,311.26 L122.54,307.24 L124.01,303.27 L125.51,299.36 L127.04,295.51 L128.60,291.71 L130.19,287.97 L131.81,284.29 L133.45,280.66 L135.12,277.09 L136.82,273.57 L138.55,270.11 L140.30,266.70 L142.08,263.34 L143.89,260.03 L145.72,256.78 L147.58,253.58 L149.47,250.43 L151.38,247.34 L153.32,244.29 L155.28,241.30 L157.27,238.35 L159.29,235.45 L161.33,232.60 L163.39,229.80 L165.48,227.05 L167.59,224.34 L169.73,221.67 L171.89,219.05 L174.07,216.47 L176.28,213.94 L178.51,211.45 L180.76,209.01 L183.04,206.61 L185.33,204.24 L187.65,201.92 L189.99,199.64 L192.36,197.40 L194.74,195.20 L197.15,193.04 L199.57,190.92 L202.02,188.84 L204.49,186.79 L206.97,184.78 L209.48,182.82 L212.00,180.88 L214.55,178.99 L217.11,177.13 L219.69,175.30 L222.29,173.51 L224.91,171.76 L227.55,170.03 L230.20,168.34 L232.87,166.69 L235.56,165.06 L238.26,163.47 L240.98,161.90 L243.72,160.37 L246.47,158.87 L249.24,157.40 L252.02,155.95 L254.82,154.54 L257.63,153.16 L260.45,151.81 L263.29,150.49 L266.14,149.20 L269.01,147.93 L271.89,146.70 L274.78,145.49 L277.68,144.31 L280.60,143.16 L283.52,142.04 L286.46,140.95 L289.41,139.88 L292.37,138.84 L295.34,137.82 L298.32,136.84 L301.31,135.88 L304.31,134.94 L307.31,134.03 L310.33,133.15 L313.36,132.29 L316.39,131.46 L319.43,130.65 L322.48,129.87 L325.53,129.12 L328.59,128.39 L331.66,127.68 L334.73,127.00 L337.81,126.35 L340.89,125.72 L343.98,125.11 L347.08,124.53 L350.18,123.98 L353.28,123.45 L356.38,122.94 L359.49,122.47 L362.60,122.01 L365.72,121.58 L368.83,121.18 L371.95,120.80 L375.07,120.45 L378.19,120.12 L381.32,119.82 L384.44,119.54 L387.56,119.29 L390.68,119.06 L393.81,118.86 L396.93,118.69 L400.05,118.54 L403.17,118.42 L406.28,118.33 L409.40,118.26 L412.51,118.22 L415.62,118.20 L418.72,118.21 L421.82,118.26 L424.92,118.34 L428.02,118.44 L431.11,118.58 L434.19,118.75 L437.27,118.94 L440.34,119.17 L443.41,119.43 L446.47,119.71 L449.52,120.02 L452.57,120.37 L455.61,120.73 L458.64,121.13 L461.67,121.56 L464.69,122.01 L467.69,122.49 L470.69,123.00 L473.68,123.53 L476.66,124.09 L479.63,124.68 L482.59,125.29 L485.54,125.93 L488.48,126.59 L491.40,127.28 L494.32,128.00 L497.22,128.74 L500.11,129.51 L502.99,130.30 L505.86,131.11 L508.71,131.94 L511.55,132.80 L514.37,133.68 L517.18,134.59 L519.98,135.53 L522.76,136.49 L525.53,137.48 L528.28,138.50 L531.02,139.56 L533.74,140.64 L536.44,141.76 L539.13,142.92 L541.80,144.10 L544.45,145.33 L547.09,146.59 L549.71,147.89 L552.31,149.23 L554.89,150.60 L557.45,152.02 L560.00,153.48 L562.52,154.97 L565.03,156.50 L567.51,158.07 L569.98,159.67 L572.43,161.31 L574.85,162.98 L577.26,164.69 L579.64,166.44 L582.01,168.22 L584.35,170.04 L586.67,171.90 L588.96,173.80 L591.24,175.74 L593.49,177.71 L595.72,179.72 L597.93,181.77 L600.11,183.86 L602.27,185.99 L604.41,188.16 L606.52,190.36 L608.61,192.61 L610.67,194.89 L612.71,197.22 L614.73,199.59 L616.72,201.99 L618.68,204.44 L620.62,206.93 L622.53,209.46 L624.42,212.02 L626.28,214.63 L628.11,217.28 L629.92,219.97 L631.70,222.70 L633.45,225.47 L635.18,228.28 L636.88,231.13 L638.55,234.02 L640.19,236.96 L641.81,239.94 L643.40,242.96 L644.96,246.02 L646.49,249.12 L647.99,252.26 L649.46,255.45 L650.91,258.68 L652.32,261.96 L653.71,265.27 L655.07,268.63 L656.39,272.04 L657.69,275.49 L658.96,278.98 L660.20,282.52 L661.41,286.10 L662.58,289.73 L663.73,293.40 L664.85,297.13 L665.93,300.90 L666.99,304.71 L668.01,308.58 L669.01,312.50 L669.97,316.47 L670.90,320.50 L671.80,324.57 L672.67,328.71 L673.51,332.91 L674.31,337.16 L675.09,341.49 L675.83,345.88 L676.54,350.36 L677.22,354.91 L677.86,359.56 L678.48,364.31 L679.06,369.18 L679.61,374.19 L680.13,379.37 L680.61,384.76 L681.07,390.43 L681.49,396.47 L681.88,403.10 L682.23,410.72 L682.41,415.50" stroke="#00a500" stroke-width="3.3"/>
<path d="M89.01,389.45 L89.04,389.23 L89.08,388.87 L89.15,388.35 L89.23,387.70 L89.33,386.91 L89.45,385.98 L89.59,384.93 L89.75,383.75 L89.92,382.46 L90.11,381.05 L90.32,379.54 L90.55,377.92 L90.80,376.21 L91.07,374.42 L91.35,372.54 L91.66,370.58 L91.98,368.56 L92.32,366.47 L92.67,364.32 L93.05,362.12 L93.44,359.86 L93.86,357.56 L94.29,355.22 L94.74,352.84 L95.20,350.43 L95.69,347.99 L96.19,345.52 L96.71,343.03 L97.25,340.52 L97.80,338.00 L98.38,335.45 L98.97,332.90 L99.58,330.33 L100.21,327.76 L100.85,325.18 L101.51,322.59 L102.19,320.01 L102.89,317.42 L103.61,314.83 L104.34,312.24 L105.09,309.66 L105.86,307.08 L106.65,304.51 L107.45,301.94 L108.27,299.38 L109.11,296.83 L109.96,294.28 L110.83,291.75 L111.72,289.22 L112.63,286.71 L113.55,284.21 L114.49,281.72 L115.44,279.25 L116.42,276.78 L117.41,274.34 L118.41,271.90 L119.44,269.48 L120.47,267.08 L121.53,264.71 L122.60,262.35 L123.69,260.00 L124.80,257.67 L125.92,255.36 L127.05,253.07 L128.21,250.79 L129.38,248.53 L130.56,246.29 L131.76,244.07 L132.98,241.86 L134.21,239.67 L135.46,237.50 L136.72,235.35 L138.00,233.22 L139.30,231.10 L140.61,229.00 L141.93,226.93 L143.27,224.87 L144.63,222.82 L146.00,220.80 L147.38,218.80 L148.78,216.81 L150.20,214.85 L151.63,212.90 L153.07,210.97 L154.53,209.07 L156.00,207.18 L157.49,205.32 L158.99,203.47 L160.50,201.64 L162.03,199.83 L163.57,198.04 L165.13,196.27 L166.70,194.52 L168.28,192.79 L169.88,191.07 L171.49,189.37 L173.12,187.68 L174.75,186.02 L176.40,184.36 L178.07,182.73 L179.74,181.11 L181.43,179.50 L183.13,177.91 L184.85,176.33 L186.57,174.76 L188.31,173.21 L190.06,171.69 L191.83,170.17 L193.60,168.68 L195.39,167.20 L197.19,165.74 L199.00,164.30 L200.82,162.88 L202.66,161.47 L204.50,160.08 L206.36,158.71 L208.23,157.35 L210.11,156.02 L212.00,154.69 L213.90,153.39 L215.81,152.10 L217.73,150.83 L219.66,149.58 L221.60,148.34 L223.56,147.12 L225.52,145.91 L227.49,144.72 L229.47,143.55 L231.47,142.39 L233.47,141.25 L235.48,140.13 L237.50,139.02 L239.53,137.92 L240.00,137.68" stroke="#00a500" stroke-width="3.4" stroke-dasharray="5 4.8"/>
<path d="M594.50,148.98 L595.60,149.82 L597.25,151.11 L598.88,152.41 L600.51,153.74 L602.12,155.09 L603.72,156.45 L605.30,157.83 L606.87,159.23 L608.43,160.64 L609.97,162.07 L611.50,163.52 L613.01,164.99 L614.51,166.47 L616.00,167.97 L617.47,169.48 L618.93,171.02 L620.37,172.56 L621.80,174.13 L623.22,175.71 L624.62,177.32 L626.00,178.93 L627.37,180.57 L628.73,182.22 L630.07,183.88 L631.39,185.57 L632.70,187.27 L634.00,188.99 L635.28,190.72 L636.54,192.47 L637.79,194.24 L639.02,196.02 L640.24,197.82 L641.44,199.63 L642.62,201.46 L643.79,203.31 L644.95,205.17 L646.08,207.05 L647.20,208.94 L648.31,210.85 L649.40,212.78 L650.47,214.71 L651.53,216.67 L652.56,218.63 L653.59,220.62 L654.59,222.61 L655.58,224.62 L656.56,226.64 L657.51,228.68 L658.45,230.72 L659.37,232.78 L660.28,234.85 L661.17,236.94 L662.04,239.03 L662.89,241.14 L663.73,243.25 L664.55,245.37 L665.35,247.50 L666.14,249.64 L666.91,251.79 L667.66,253.95 L668.39,256.11 L669.11,258.27 L669.81,260.44 L670.49,262.61 L671.15,264.78 L671.79,266.96 L672.42,269.13 L673.03,271.30 L673.62,273.47 L674.20,275.63 L674.75,277.78 L675.29,279.93 L675.81,282.06 L676.31,284.18 L676.80,286.28 L677.26,288.37 L677.71,290.43 L678.14,292.47 L678.56,294.48 L678.95,296.46 L679.33,298.41 L679.68,300.31 L680.02,302.17 L680.34,303.99 L680.65,305.74 L680.93,307.44 L681.20,309.07 L681.45,310.63 L681.68,312.12 L681.89,313.51 L682.08,314.82 L682.25,316.03 L682.41,317.13 L682.55,318.13 L682.67,319.00 L682.77,319.75 L682.85,320.38 L682.92,320.87 L682.96,321.22 L682.99,321.42" stroke="#00a500" stroke-width="3.4" stroke-dasharray="5 4.8" stroke-dashoffset="-0.2"/>
<path d="M296.4,9.9 V602.5" stroke="#ffd9d9" stroke-width="2.4"/>
<path d="M296.4,9.9 V602.5" stroke="#aa0000" stroke-width="3.3" stroke-dasharray="5.8 6.03" stroke-dashoffset="2.73"/>
<path d="M224.70,146.41 L225.52,145.91 L227.49,144.72 L229.47,143.55 L231.47,142.39 L233.47,141.25 L235.48,140.13 L237.50,139.02 L239.53,137.92 L241.57,136.85 L243.62,135.79 L245.67,134.74 L247.74,133.71 L249.81,132.70 L251.89,131.70 L253.99,130.71 L256.08,129.75 L258.19,128.80 L260.31,127.86 L262.43,126.94 L264.56,126.04 L266.70,125.15 L268.84,124.27 L270.99,123.41 L273.15,122.57 L275.32,121.74 L277.49,120.93 L279.67,120.13 L281.86,119.34 L284.05,118.57 L286.25,117.82 L288.46,117.07 L290.67,116.35 L292.89,115.63 L295.11,114.94 L297.34,114.25 L299.58,113.58 L301.82,112.92 L304.06,112.28 L306.31,111.65 L308.57,111.04 L310.83,110.43 L313.09,109.85 L315.36,109.27 L317.63,108.71 L319.91,108.16 L322.19,107.62 L324.48,107.10 L326.77,106.59 L329.06,106.09 L331.36,105.61 L333.66,105.13 L335.96,104.68 L338.27,104.23 L340.58,103.80 L342.89,103.38 L345.21,102.97 L347.52,102.57 L349.84,102.19 L352.17,101.82 L354.49,101.47 L356.82,101.13 L359.14,100.80 L361.47,100.48 L363.81,100.18 L366.14,99.89 L368.47,99.61 L370.81,99.35 L373.14,99.10 L375.48,98.86 L377.82,98.64 L380.15,98.43 L382.49,98.23 L384.83,98.04 L387.17,97.87 L389.51,97.72 L391.85,97.57 L394.18,97.44 L396.52,97.33 L398.86,97.23 L401.19,97.14 L403.53,97.06 L405.86,97.00 L408.19,96.95 L410.53,96.92 L412.86,96.90 L415.18,96.90 L417.51,96.91 L419.83,96.93 L422.16,96.97 L424.48,97.02 L426.79,97.09 L429.11,97.17 L431.42,97.26 L433.73,97.37 L436.04,97.50 L438.34,97.63 L440.64,97.79 L442.94,97.95 L445.23,98.13 L447.52,98.32 L449.81,98.53 L452.09,98.75 L454.37,98.98 L456.64,99.23 L458.91,99.49 L461.17,99.76 L463.43,100.05 L465.69,100.35 L467.94,100.66 L470.18,100.99 L472.42,101.33 L474.66,101.68 L476.89,102.05 L479.11,102.43 L481.33,102.82 L483.54,103.23 L485.75,103.64 L487.95,104.07 L490.14,104.52 L492.33,104.97 L494.51,105.44 L496.68,105.91 L498.85,106.39 L501.01,106.89 L503.16,107.40 L505.30,107.91 L507.44,108.44 L509.57,108.99 L511.69,109.54 L513.81,110.11 L515.92,110.70 L518.01,111.29 L520.11,111.90 L522.19,112.53 L524.26,113.17 L526.33,113.83 L528.38,114.51 L530.43,115.20 L532.47,115.91 L534.50,116.63 L536.52,117.37 L538.53,118.13 L540.53,118.91 L542.53,119.71 L544.51,120.52 L546.48,121.35 L548.44,122.19 L550.40,123.05 L552.34,123.92 L554.27,124.81 L556.19,125.72 L558.10,126.64 L560.00,127.58 L561.89,128.53 L563.77,129.50 L565.64,130.49 L567.50,131.49 L569.34,132.51 L571.18,133.55 L573.00,134.60 L574.81,135.67 L576.61,136.76 L578.40,137.86 L580.17,138.98 L581.94,140.12 L583.69,141.27 L585.43,142.44 L587.15,143.63 L588.87,144.83 L590.57,146.05 L592.26,147.29 L593.93,148.54 L595.00,149.36" stroke="#00a8ac" stroke-width="14.4"/>
</g>
<!-- frame -->
<rect x="89.7" y="9.9" width="593.5" height="592.6" fill="none" stroke="#000" stroke-width="1.2"/>
<path d="M112.06,602.5 v-4.3 M112.06,9.9 v4.3 M134.46,602.5 v-7.7 M134.46,9.9 v7.7 M156.86,602.5 v-4.3 M156.86,9.9 v4.3 M179.25,602.5 v-4.3 M179.25,9.9 v4.3 M201.65,602.5 v-4.3 M201.65,9.9 v4.3 M224.04,602.5 v-4.3 M224.04,9.9 v4.3 M246.44,602.5 v-7.7 M246.44,9.9 v7.7 M268.84,602.5 v-4.3 M268.84,9.9 v4.3 M291.23,602.5 v-4.3 M291.23,9.9 v4.3 M313.63,602.5 v-4.3 M313.63,9.9 v4.3 M336.02,602.5 v-4.3 M336.02,9.9 v4.3 M358.42,602.5 v-7.7 M358.42,9.9 v7.7 M380.82,602.5 v-4.3 M380.82,9.9 v4.3 M403.21,602.5 v-4.3 M403.21,9.9 v4.3 M425.61,602.5 v-4.3 M425.61,9.9 v4.3 M448.00,602.5 v-4.3 M448.00,9.9 v4.3 M470.40,602.5 v-7.7 M470.40,9.9 v7.7 M492.80,602.5 v-4.3 M492.80,9.9 v4.3 M515.19,602.5 v-4.3 M515.19,9.9 v4.3 M537.59,602.5 v-4.3 M537.59,9.9 v4.3 M559.98,602.5 v-4.3 M559.98,9.9 v4.3 M582.38,602.5 v-7.7 M582.38,9.9 v7.7 M604.78,602.5 v-4.3 M604.78,9.9 v4.3 M627.17,602.5 v-4.3 M627.17,9.9 v4.3 M649.57,602.5 v-4.3 M649.57,9.9 v4.3 M671.96,602.5 v-4.3 M671.96,9.9 v4.3 M89.7,602.50 h7.7 M683.2,602.50 h-7.7 M89.7,572.87 h4.3 M683.2,572.87 h-4.3 M89.7,543.24 h4.3 M683.2,543.24 h-4.3 M89.7,513.61 h4.3 M683.2,513.61 h-4.3 M89.7,483.98 h7.7 M683.2,483.98 h-7.7 M89.7,454.35 h4.3 M683.2,454.35 h-4.3 M89.7,424.72 h4.3 M683.2,424.72 h-4.3 M89.7,395.09 h4.3 M683.2,395.09 h-4.3 M89.7,365.46 h7.7 M683.2,365.46 h-7.7 M89.7,335.83 h4.3 M683.2,335.83 h-4.3 M89.7,306.20 h4.3 M683.2,306.20 h-4.3 M89.7,276.57 h4.3 M683.2,276.57 h-4.3 M89.7,246.94 h7.7 M683.2,246.94 h-7.7 M89.7,217.31 h4.3 M683.2,217.31 h-4.3 M89.7,187.68 h4.3 M683.2,187.68 h-4.3 M89.7,158.05 h4.3 M683.2,158.05 h-4.3 M89.7,128.42 h7.7 M683.2,128.42 h-7.7 M89.7,98.79 h4.3 M683.2,98.79 h-4.3 M89.7,69.16 h4.3 M683.2,69.16 h-4.3 M89.7,39.53 h4.3 M683.2,39.53 h-4.3 M89.7,9.90 h7.7 M683.2,9.90 h-7.7" stroke="#000" stroke-width="1.25" fill="none"/>
<g class="tk">
<text transform="translate(133.8,624.4) scale(0.995,1)" text-anchor="middle">−0.3</text>
<text transform="translate(245.7,624.4) scale(0.995,1)" text-anchor="middle">−0.2</text>
<text transform="translate(357.7,624.4) scale(0.995,1)" text-anchor="middle">−0.1</text>
<text transform="translate(470.3,624.4) scale(0.995,1)" text-anchor="middle">0.0</text>
<text transform="translate(582.3,624.4) scale(0.995,1)" text-anchor="middle">0.1</text>
<text transform="translate(83.8,608.3) scale(0.995,1)" text-anchor="end">0.0</text>
<text transform="translate(83.8,489.8) scale(0.995,1)" text-anchor="end">0.2</text>
<text transform="translate(83.8,371.3) scale(0.995,1)" text-anchor="end">0.4</text>
<text transform="translate(83.8,252.7) scale(0.995,1)" text-anchor="end">0.6</text>
<text transform="translate(83.8,134.2) scale(0.995,1)" text-anchor="end">0.8</text>
<text transform="translate(83.8,15.7) scale(0.995,1)" text-anchor="end">1.0</text>
</g>
<!-- annotations -->
<g fill="#996633">
<text transform="translate(368.52,194.50) scale(1.0891,1.0000)" font-family='"Liberation Serif",serif' font-size="28.2" font-style="italic">B</text>
<text transform="translate(389.24,194.50) scale(1.0005,1.0000)" font-family='"Liberation Serif",serif' font-size="42.9">→</text>
<text transform="translate(433.15,194.50) scale(0.9984,1.0000)" font-family='"Liberation Serif",serif' font-size="28.2" font-style="italic">π</text>
<text transform="translate(450.15,194.50) scale(0.9984,1.0000)" font-family='"Liberation Serif",serif' font-size="28.2" font-style="italic">π</text>
<text transform="translate(470.41,199.90) scale(1.0519,1.0000)" font-family='"Liberation Serif",serif' font-size="38">+</text>
<text transform="translate(499.90,194.50) scale(1.2092,1.0000)" font-family='"Liberation Serif",serif' font-size="28.2" font-style="italic">S</text>
<text transform="translate(514.73,194.50) scale(1.0308,1.0000)" font-family='"Liberation Serif",serif' font-size="28.2" font-style="italic">U</text>
<text transform="translate(540.17,194.50) scale(0.9113,1.0000)" font-family='"Liberation Serif",serif' font-size="28.2">(</text>
<text transform="translate(548.76,194.50) scale(0.9958,1.0000)" font-family='"Liberation Serif",serif' font-size="28.2">3</text>
<text transform="translate(563.87,194.50) scale(0.9113,1.0000)" font-family='"Liberation Serif",serif' font-size="28.2">)</text>
</g>
<g fill="#00a500">
<text transform="translate(468.64,312.80) scale(1.0421,1.0000)" font-family='"Liberation Serif",serif' font-size="28.2">Isospin</text>
<text transform="translate(560.21,312.80) scale(1.0512,1.0000)" font-family='"Liberation Serif",serif' font-size="28.2">relation</text>
</g>
<g fill="#aa0000">
<text transform="translate(351.31,550.00) scale(1.0548,1.0000)" font-family='"Liberation Serif",serif' font-size="28.2">Sum</text>
<text transform="translate(413.99,550.00) scale(1.0875,1.0000)" font-family='"Liberation Serif",serif' font-size="28.2">rule</text>
<text transform="translate(347.33,579.30) scale(1.0340,1.0000)" font-family='"Liberation Serif",serif' font-size="28.2">prediction</text>
</g>
<!-- axis labels -->
<g fill="#000">
<text transform="translate(356.90,665.70) scale(0.8771,1.0000)" font-family='"Liberation Serif",serif' font-size="27.1" font-style="italic">A</text>
<text transform="translate(373.22,653.90) scale(0.9068,1.0000)" font-family='"Liberation Serif",serif' font-size="16.8" font-style="italic">π</text>
<text transform="translate(382.11,647.80) scale(1.2660,1.0000)" font-family='"Liberation Serif",serif' font-size="12.3">0</text>
<text transform="translate(393.66,654.40) scale(1.1974,1.0000)" font-family='"Liberation Serif",serif' font-size="18.4" font-style="italic">K</text>
<text transform="translate(407.30,657.00) scale(1.1959,1.0000)" font-family='"Liberation Serif",serif' font-size="13.7">S</text>
<text transform="translate(372.12,673.00) scale(1.1722,1.0000)" font-family='"Liberation Serif",serif' font-size="18.3">CP</text>
</g>
<g fill="#000" transform="translate(0,334) rotate(-90)">
<text transform="translate(0.28,26.60) scale(1.0160,1.0000)" font-family='"Liberation Serif",serif' font-size="27.1" font-style="italic">S</text>
<text transform="translate(14.01,15.60) scale(0.9527,1.0000)" font-family='"Liberation Serif",serif' font-size="16.8" font-style="italic">π</text>
<text transform="translate(23.44,8.80) scale(1.2190,1.0000)" font-family='"Liberation Serif",serif' font-size="12.0">0</text>
<text transform="translate(36.15,15.60) scale(1.1371,1.0000)" font-family='"Liberation Serif",serif' font-size="18.4" font-style="italic">K</text>
<text transform="translate(49.94,18.60) scale(1.1208,1.0000)" font-family='"Liberation Serif",serif' font-size="14.2">S</text>
<text transform="translate(13.76,33.30) scale(1.1196,1.0000)" font-family='"Liberation Serif",serif' font-size="18.3">CP</text>
</g>
</svg>
</body></html>
